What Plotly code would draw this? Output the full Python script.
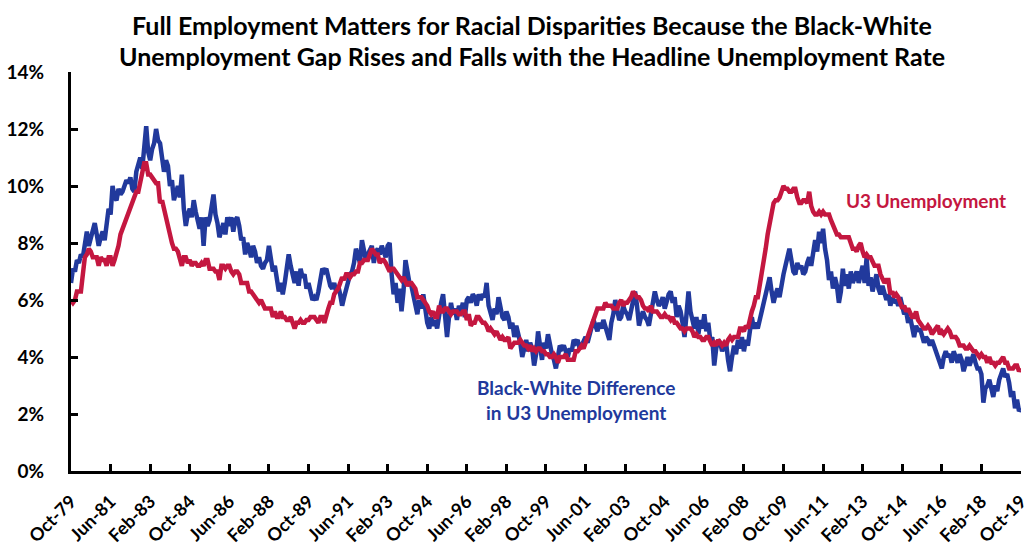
import pandas as pd
import plotly.graph_objects as go

# Monthly data, Oct-1979 .. Oct-2019
months = pd.date_range("1979-10-01", "2019-10-01", freq="MS")

u3 = [
    6.0, 5.9, 6.0,
    6.3, 6.3, 6.3, 6.9, 7.5, 7.6, 7.8, 7.7, 7.5, 7.5, 7.5, 7.2,
    7.5, 7.4, 7.4, 7.2, 7.5, 7.5, 7.2, 7.4, 7.6, 7.9, 8.3, 8.5,
    8.6, 8.9, 9.0, 9.3, 9.4, 9.6, 9.8, 9.8, 10.1, 10.4, 10.8, 10.8,
    10.4, 10.4, 10.3, 10.2, 10.1, 10.1, 9.4, 9.5, 9.2, 8.8, 8.5, 8.3,
    8.0, 7.8, 7.8, 7.7, 7.4, 7.2, 7.5, 7.5, 7.3, 7.4, 7.2, 7.3,
    7.3, 7.2, 7.2, 7.3, 7.2, 7.4, 7.4, 7.1, 7.1, 7.1, 7.0, 7.0,
    6.7, 7.2, 7.2, 7.1, 7.2, 7.2, 7.0, 6.9, 7.0, 7.0, 6.9, 6.6,
    6.6, 6.6, 6.6, 6.3, 6.3, 6.2, 6.1, 6.0, 5.9, 6.0, 5.8, 5.7,
    5.7, 5.7, 5.7, 5.4, 5.6, 5.4, 5.4, 5.6, 5.4, 5.4, 5.3, 5.3,
    5.4, 5.2, 5.0, 5.2, 5.2, 5.3, 5.2, 5.2, 5.3, 5.3, 5.4, 5.4,
    5.4, 5.3, 5.2, 5.4, 5.4, 5.2, 5.5, 5.7, 5.9, 5.9, 6.2, 6.3,
    6.4, 6.6, 6.8, 6.7, 6.9, 6.9, 6.8, 6.9, 6.9, 7.0, 7.0, 7.3,
    7.3, 7.4, 7.4, 7.4, 7.6, 7.8, 7.7, 7.6, 7.6, 7.3, 7.4, 7.4,
    7.3, 7.1, 7.0, 7.1, 7.1, 7.0, 6.9, 6.8, 6.7, 6.8, 6.6, 6.5,
    6.6, 6.6, 6.5, 6.4, 6.1, 6.1, 6.1, 6.0, 5.9, 5.8, 5.6, 5.5,
    5.6, 5.4, 5.4, 5.8, 5.6, 5.6, 5.7, 5.7, 5.6, 5.5, 5.6, 5.6,
    5.6, 5.5, 5.5, 5.6, 5.6, 5.3, 5.5, 5.1, 5.2, 5.2, 5.4, 5.4,
    5.3, 5.2, 5.2, 5.1, 4.9, 5.0, 4.9, 4.8, 4.9, 4.7, 4.6, 4.7,
    4.6, 4.6, 4.7, 4.3, 4.4, 4.5, 4.5, 4.5, 4.6, 4.5, 4.4, 4.4,
    4.3, 4.4, 4.2, 4.3, 4.2, 4.3, 4.3, 4.2, 4.2, 4.1, 4.1, 4.0,
    4.0, 4.1, 4.0, 3.8, 4.0, 4.0, 4.0, 4.1, 3.9, 3.9, 3.9, 3.9,
    4.2, 4.2, 4.3, 4.4, 4.3, 4.5, 4.6, 4.9, 5.0, 5.3, 5.5, 5.7,
    5.7, 5.7, 5.7, 5.9, 5.8, 5.8, 5.8, 5.7, 5.7, 5.7, 5.9, 6.0,
    5.8, 5.9, 5.9, 6.0, 6.1, 6.3, 6.2, 6.1, 6.1, 6.0, 5.8, 5.7,
    5.7, 5.6, 5.8, 5.6, 5.6, 5.6, 5.5, 5.4, 5.4, 5.5, 5.4, 5.4,
    5.3, 5.4, 5.2, 5.2, 5.1, 5.0, 5.0, 4.9, 5.0, 5.0, 5.0, 4.9,
    4.7, 4.8, 4.7, 4.7, 4.6, 4.6, 4.7, 4.7, 4.5, 4.4, 4.5, 4.4,
    4.6, 4.5, 4.4, 4.5, 4.4, 4.6, 4.7, 4.6, 4.7, 4.7, 4.7, 5.0,
    5.0, 4.9, 5.1, 5.0, 5.4, 5.6, 5.8, 6.1, 6.1, 6.5, 6.8, 7.3,
    7.8, 8.3, 8.7, 9.0, 9.4, 9.5, 9.5, 9.6, 9.8, 10.0, 9.9, 9.9,
    9.8, 9.8, 9.9, 9.9, 9.6, 9.4, 9.4, 9.5, 9.5, 9.4, 9.8, 9.3,
    9.1, 9.0, 9.0, 9.1, 9.0, 9.1, 9.0, 9.0, 9.0, 8.8, 8.6, 8.5,
    8.3, 8.3, 8.2, 8.2, 8.2, 8.2, 8.2, 8.0, 7.8, 7.8, 7.7, 7.9,
    8.0, 7.7, 7.5, 7.6, 7.5, 7.5, 7.3, 7.2, 7.2, 7.2, 6.9, 6.7,
    6.6, 6.7, 6.7, 6.2, 6.3, 6.1, 6.2, 6.1, 5.9, 5.7, 5.8, 5.6,
    5.7, 5.5, 5.4, 5.4, 5.6, 5.3, 5.2, 5.1, 5.0, 5.0, 5.1, 5.0,
    4.8, 4.9, 5.0, 5.1, 4.8, 4.9, 4.8, 4.9, 5.0, 4.9, 4.7, 4.7,
    4.7, 4.6, 4.4, 4.4, 4.4, 4.3, 4.3, 4.4, 4.3, 4.2, 4.2, 4.1,
    4.0, 4.1, 4.0, 4.0, 3.8, 4.0, 3.8, 3.8, 3.7, 3.8, 3.8, 3.9,
    4.0, 3.8, 3.8, 3.6, 3.6, 3.6, 3.7, 3.7, 3.5, 3.6,
]

black_white_gap = [
    6.6, 7.1, 7.0,
    7.4, 7.3, 7.6, 7.5, 8.0, 8.4, 7.9, 8.2, 8.4, 8.7, 8.3, 7.9,
    8.2, 8.4, 8.1, 8.7, 9.2, 9.0, 10.0, 9.6, 9.5, 9.9, 9.7, 9.8,
    10.0, 10.2, 10.1, 10.3, 9.9, 9.8, 10.5, 10.8, 11.0, 10.6, 11.3, 12.1,
    11.2, 10.9, 11.3, 11.5, 12.0, 11.6, 11.5, 11.0, 10.5, 10.9, 10.7, 10.0,
    10.2, 9.5, 9.7, 10.0, 9.6, 10.4, 9.2, 8.6, 9.0, 9.2, 8.9, 9.5,
    9.1, 8.8, 8.5, 8.9, 7.9, 8.9, 8.6, 8.8, 9.2, 9.7, 9.0, 8.7,
    8.2, 8.5, 8.7, 8.3, 8.9, 8.6, 8.9, 8.4, 8.8, 8.9, 8.6, 8.1,
    8.2, 7.6, 8.0, 7.8, 7.5, 7.9, 7.7, 7.3, 7.5, 7.2, 7.1, 7.3,
    7.4, 7.9, 7.5, 7.0, 7.2, 6.8, 6.3, 6.6, 6.2, 6.6, 7.0, 7.6,
    7.2, 6.8, 6.6, 7.0, 6.5, 7.1, 6.8, 6.9, 6.4, 6.6, 6.3, 6.0,
    6.1, 6.0, 6.3, 6.7, 7.1, 7.0, 7.1, 6.8, 6.5, 6.4, 6.6, 6.3,
    6.5, 6.2, 5.8, 6.1, 6.4, 6.6, 6.9, 7.0, 7.3, 7.8, 7.5, 7.3,
    8.1, 7.7, 7.4, 7.6, 7.8, 7.9, 7.3, 7.7, 7.8, 7.6, 7.9, 7.7,
    7.5, 7.9, 8.0, 6.9, 6.2, 6.6, 5.9, 6.4, 5.6, 6.3, 7.4, 7.0,
    6.6, 6.5, 6.1, 5.8, 5.5, 6.0, 5.7, 6.2, 5.6, 5.2, 5.0, 5.4,
    5.1, 5.3, 5.0, 5.6, 5.9, 6.2, 5.5, 4.7, 5.4, 5.9, 5.5, 5.7,
    5.3, 5.8, 5.6, 5.9, 5.4, 6.0, 6.1, 5.9, 6.2, 6.1, 5.8, 6.2,
    6.0, 6.2, 6.1, 6.6, 5.8, 5.6, 5.3, 5.7, 5.5, 6.1, 5.7, 5.4,
    5.3, 5.6, 5.4, 5.0, 5.2, 4.7, 5.1, 4.8, 4.5, 4.0, 4.4, 4.6,
    4.2, 4.5, 4.3, 3.7, 4.1, 4.9, 4.4, 3.9, 4.5, 4.3, 4.8, 4.4,
    4.1, 3.9, 3.6, 4.0, 4.4, 4.3, 4.4, 4.2, 4.0, 4.3, 4.2, 4.6,
    4.5, 4.6, 4.3, 4.4, 4.6, 4.7, 4.5, 4.8, 5.0, 5.3, 5.1, 4.9,
    5.2, 5.0, 5.3, 5.1, 4.9, 4.6, 5.2, 5.5, 6.0, 5.6, 5.3, 5.4,
    5.8, 5.6, 5.5, 5.3, 5.6, 5.9, 6.3, 5.8, 5.1, 5.4, 5.6, 5.4,
    5.3, 5.1, 5.5, 5.8, 6.3, 6.0, 5.8, 5.9, 6.1, 5.7, 6.0, 6.2,
    6.3, 5.9, 6.1, 5.4, 5.8, 5.6, 5.2, 4.7, 5.5, 6.3, 5.6, 5.3,
    5.0, 5.4, 4.8, 5.3, 5.0, 5.5, 4.9, 5.2, 4.6, 4.7, 3.7, 4.3,
    4.6, 4.5, 4.2, 4.4, 4.5, 3.9, 3.5, 4.0, 4.4, 4.1, 4.6, 4.3,
    4.7, 4.2, 4.6, 4.4, 4.9, 5.4, 5.0, 5.2, 5.0, 5.3, 5.6, 5.9,
    6.2, 6.4, 6.8, 6.3, 5.9, 6.2, 6.4, 6.1, 6.6, 6.9, 7.2, 7.6,
    7.8, 7.4, 7.0, 6.9, 7.3, 7.1, 7.2, 6.9, 7.0, 7.3, 7.5, 7.2,
    7.6, 8.1, 7.7, 8.4, 8.0, 8.5, 7.8, 7.4, 6.7, 7.0, 6.4, 6.8,
    6.5, 5.9, 6.3, 7.1, 6.5, 6.9, 6.4, 7.0, 6.6, 6.8, 7.0, 6.6,
    6.9, 7.2, 6.6, 7.5, 6.5, 6.8, 6.3, 6.6, 6.9, 6.4, 6.2, 6.5,
    6.3, 6.0, 6.2, 5.8, 6.1, 5.9, 6.0, 5.8, 6.1, 5.7, 5.5, 5.6,
    5.2, 5.4, 5.0, 4.7, 5.1, 4.9, 5.0, 4.8, 4.5, 4.7, 4.6, 4.4,
    4.6, 4.4, 4.2, 4.0, 3.9, 3.6, 4.0, 4.2, 4.0, 4.1, 3.8, 4.2,
    4.0, 3.8, 4.1, 3.9, 3.5, 3.8, 4.0, 3.7, 3.9, 4.1, 3.8, 3.6,
    3.6, 3.4, 2.4, 2.9, 3.0, 3.2, 2.9, 2.6, 3.0, 2.8, 3.2, 3.4,
    3.6, 3.3, 3.4, 3.1, 2.6, 2.8, 2.2, 2.5, 2.1, 2.2,
]

tick_labels = ["Oct-79", "Jun-81", "Feb-83", "Oct-84", "Jun-86", "Feb-88", "Oct-89",
               "Jun-91", "Feb-93", "Oct-94", "Jun-96", "Feb-98", "Oct-99", "Jun-01",
               "Feb-03", "Oct-04", "Jun-06", "Feb-08", "Oct-09", "Jun-11", "Feb-13",
               "Oct-14", "Jun-16", "Feb-18", "Oct-19"]
y_ticks = [0, 2, 4, 6, 8, 10, 12, 14]
y_tick_labels = ["0%", "2%", "4%", "6%", "8%", "10%", "12%", "14%"]

title_lines = ["Full Employment Matters for Racial Disparities Because the Black-White",
               "Unemployment Gap Rises and Falls with the Headline Unemployment Rate"]

RED = "#C41740"
BLUE = "#21399C"
FONT = "Lato"

W, H = 1032, 548
M_L, M_R, M_T, M_B = 71, 11, 72, 77
PLOT_H = H - M_T - M_B

x_idx = list(range(len(months)))
tick_pos = [x_idx[i] for i in range(0, len(months), 20)]

fig = go.Figure()
fig.add_trace(go.Scatter(x=x_idx, y=black_white_gap, mode="lines",
                         line=dict(color=BLUE, width=4.5), cliponaxis=False,
                         name="Black-White Difference in U3 Unemployment"))
fig.add_trace(go.Scatter(x=x_idx, y=u3, mode="lines",
                         line=dict(color=RED, width=4.5), cliponaxis=False,
                         name="U3 Unemployment"))

fig.update_layout(
    width=W, height=H,
    margin=dict(l=M_L, r=M_R, t=M_T, b=M_B, autoexpand=False),
    paper_bgcolor="white", plot_bgcolor="white",
    showlegend=False,
    font=dict(family=FONT, color="black"),
)

# Title as two centred lines above the plot
for line_text, py in zip(title_lines, [25, 56]):
    fig.add_annotation(xref="paper", yref="paper", x=0.485, y=(H - M_B - py) / PLOT_H,
                       xanchor="center", yanchor="middle", showarrow=False,
                       text="<b>" + line_text + "</b>",
                       font=dict(family=FONT, size=25, color="black"))

fig.update_xaxes(
    range=[0, len(months) - 1 + 0.01],
    tickmode="array", tickvals=tick_pos, ticktext=tick_labels,
    tickangle=-45,
    tickfont=dict(family=FONT, size=18, color="black", weight="bold"),
    showline=True, linecolor="black", linewidth=3,
    ticks="inside", ticklen=7, tickwidth=3, tickcolor="black",
    showgrid=False, zeroline=False,
    ticklabelstandoff=10,
    ticklabeloverflow="allow",
    automargin=False,
)
fig.update_yaxes(
    range=[0, 14],
    tickmode="array", tickvals=y_ticks, ticktext=y_tick_labels,
    tickfont=dict(family=FONT, size=19, color="black", weight="bold"),
    showline=True, linecolor="black", linewidth=3,
    ticks="inside", ticklen=7, tickwidth=3, tickcolor="black",
    showgrid=False, zeroline=False,
    ticklabelstandoff=20,
    automargin=False,
)

fig.add_annotation(x=432, y=9.5, text="<b>U3 Unemployment</b>", showarrow=False,
                   xanchor="center",
                   font=dict(family=FONT, size=19, color=RED))
fig.add_annotation(x=255, y=2.5, text="<b>Black-White Difference<br>in U3 Unemployment</b>",
                   showarrow=False, align="center", xanchor="center",
                   font=dict(family=FONT, size=19, color=BLUE))

fig.write_html("out.html")
